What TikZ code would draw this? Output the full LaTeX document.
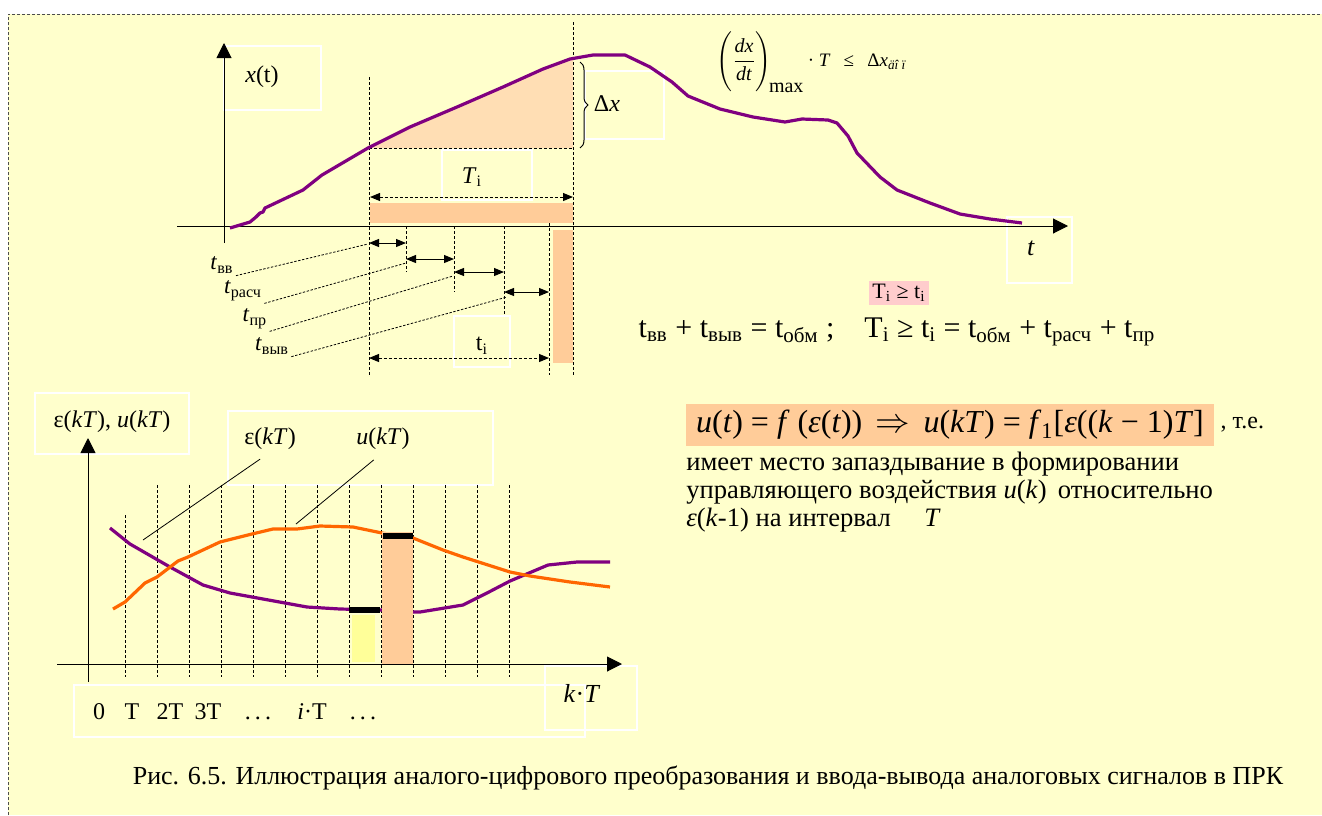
\documentclass[tikz,border=0pt]{standalone}
\usepackage{fontspec}
\setmainfont{Liberation Serif}
\usetikzlibrary{arrows.meta,decorations.pathreplacing}
\definecolor{bgyel}{RGB}{255,255,204}
\definecolor{sigpurple}{RGB}{128,0,128}
\definecolor{sigorange}{RGB}{255,102,0}
\definecolor{peach}{RGB}{255,204,153}
\definecolor{lightpeach}{RGB}{255,222,180}
\definecolor{pinkbg}{RGB}{255,204,204}
\definecolor{lemon}{RGB}{255,255,153}
\newcommand{\dotsep}{.\kern0.17em.\kern0.17em.}
\tikzset{
	wbox/.style={draw=white,line width=0.6pt},
	sig/.style={line width=1.6pt,line join=round},
	guide/.style={dash pattern=on 1.5pt off 1pt,line width=0.4pt},
	leader/.style={dash pattern=on 1.2pt off 0.8pt,line width=0.4pt},
	span/.style={{Triangle[length=5pt,width=4pt]}-{Triangle[length=5pt,width=4pt]},line width=0.5pt},
	lbl/.style={inner sep=1pt,font=\fontsize{12}{14}\selectfont},
	sublbl/.style={inner sep=1pt,font=\fontsize{11.5}{14}\selectfont}
}
\begin{document}
\begin{tikzpicture}[x=0.5pt,y=-0.5pt,>={Triangle[length=7.5pt,width=7.5pt]}]
	\useasboundingbox (0,0) rectangle (1322,815);
	\fill[bgyel] (8,14) rectangle (1322,815);
	\draw[gray!60!black,dash pattern=on 1.5pt off 1pt,line width=0.5pt] (8,815) -- (8,14) -- (1322,14);
	% upper chart
	\draw[wbox] (224,46) rectangle (321,110);
	\draw[wbox] (585,71) rectangle (664,139);
	\draw[wbox] (442,150) rectangle (532,200);
	\draw[wbox] (454,316) rectangle (510,367);
	\draw[wbox] (1007,217) rectangle (1072,283);
	\fill[lightpeach] plot coordinates {(369,148) (410,127) (457,107) (503,87) (543,69) (570,59) (573,58)} -- (573,148) -- cycle;
	\fill[peach] (370,203) rectangle (573,223);
	\fill[peach] (553,230) rectangle (573,363);
	\draw[guide] (573,22) -- (573,375);
	\draw[guide] (369,77) -- (369,375);
	\draw[guide] (406,226) -- (406,272);
	\draw[guide] (454,226) -- (454,292);
	\draw[guide] (504,226) -- (504,314);
	\draw[guide] (549,223) -- (549,375);
	\draw[guide] (369,148) -- (573,148);
	\draw[->,line width=0.5pt] (177,226) -- (1068,226);
	\draw[->,line width=0.5pt] (224,243) -- (224,43);
	\draw[sig,sigpurple] plot coordinates {(230,228) (250,222) (256,217) (260,213) (263,212) (265,208) (303,190) (322,175) (368,148) (410,127) (457,107) (503,87) (543,69) (570,59) (593,55) (625,55) (650,67) (672,82) (688,96) (720,109) (753,117) (785,122) (802,119) (828,120) (837,123) (848,136) (857,153) (880,177) (897,190) (930,203) (960,214) (990,219) (1022,223)};
	\draw[decorate,decoration={brace,amplitude=4pt},line width=0.5pt] (580,62) -- (580,148);
	\draw (262,77) node[lbl] (xlab) {\textit{x}(t)};
	\draw (607,104) node[lbl] (dxlab) {Δ\textit{x}};
	\draw (1031,248) node[lbl,font=\fontsize{13}{15}\selectfont] (tlab) {\textit{t}};
	\draw[span,dash pattern=on 1.5pt off 1pt] (370,197) -- (573,197);
	\draw (472,177) node[lbl] (Tilab) {\textit{T}\textsubscript{i}};
	\draw[span] (369,243) -- (406,243);
	\draw[span] (406,259) -- (454,259);
	\draw[span] (454,272) -- (504,272);
	\draw[span] (504,292) -- (549,292);
	\node[sublbl] (tvv) at (222,265) {\textit{t}\textsubscript{вв}};
	\node[sublbl] (trasch) at (243,291) {\textit{t}\textsubscript{расч}};
	\node[sublbl] (tpr) at (255,319) {\textit{t}\textsubscript{пр}};
	\node[sublbl] (tvyv) at (272,346) {\textit{t}\textsubscript{выв}};
	\coordinate (a1) at (368,244);
	\coordinate (a2) at (406,263);
	\coordinate (a3) at (453,276);
	\coordinate (a4) at (507,297);
	\draw[leader] (tvv.south east) -- (a1);
	\draw[leader] (trasch.south east) -- (a2);
	\draw[leader] (tpr.south east) -- (a3);
	\draw[leader] (tvyv.south east) -- (a4);
	\draw[span,dash pattern=on 1.5pt off 1pt] (369,358) -- (549,358);
	\draw (482,346) node[lbl] (tilab) {t\textsubscript{i}};
	\node[inner sep=0pt,anchor=west] (rate) at (716,62) {\fontsize{10}{12}\selectfont$\displaystyle\Biggl(\frac{\mbox{\textit{dx}}}{\mbox{\textit{dt}}}\Biggr)_{\!\mbox{max}}$\,\fontsize{9.5}{11}\selectfont· \textit{T}\;\, ≤\;\, Δ\textit{x}\textsubscript{\textit{äî ï}}};
	\node[fill=pinkbg,inner sep=1.5pt,font=\fontsize{11}{13}\selectfont] (cond) at (899,293) {T\textsubscript{i} ≥ t\textsubscript{i}};
	\node[lbl,font=\fontsize{15}{17}\selectfont] (tsum) at (897,332) {t\textsubscript{вв} + t\textsubscript{выв} = t\textsubscript{обм} ;\quad T\textsubscript{i} ≥ t\textsubscript{i} = t\textsubscript{обм} + t\textsubscript{расч} + t\textsubscript{пр}};
	% lower chart
	\draw[wbox] (35,393) rectangle (189,454);
	\draw[wbox] (228,411) rectangle (493,485);
	\draw[wbox] (74,685) rectangle (585,737);
	\draw[wbox] (545,666) rectangle (637,730);
	\draw[guide] (125,515) -- (125,677);
	\foreach \k in {1,...,12}
		\draw[guide] (125+32*\k,485) -- (125+32*\k,677);
	\draw[->,line width=0.5pt] (57,664) -- (622,664);
	\draw[->,line width=0.5pt] (88,682) -- (88,438);
	\fill[lemon] (352,615) rectangle (375,662);
	\draw[sig,sigpurple] plot coordinates {(110,528) (130,544) (170,567) (203,585) (230,593) (263,599) (307,607) (340,609) (382,610) (413,612) (420,612) (463,605) (487,593) (510,581) (548,565) (577,562) (610,562)};
	\draw[sig,sigorange] plot coordinates {(113,609) (125,602) (145,583) (157,577) (178,561) (188,557) (220,542) (252,534) (273,529) (297,529) (320,526) (353,527) (382,533) (413,538) (443,550) (463,557) (510,572) (530,576) (570,582) (610,587)};
	\fill[peach] (382,532) rectangle (413,664);
	\draw[line width=2.6pt] (349,610) -- (380,610);
	\draw[line width=2.6pt] (383,536) -- (413,536);
	\node[lbl] (ylab) at (112,422) {ε(\textit{kT}), \textit{u}(\textit{kT})};
	\node[lbl] (epslab) at (270,439) {ε(\textit{kT})};
	\node[lbl] (ulab) at (383,439) {\textit{u}(\textit{kT})};
	\coordinate (epsfoot) at (143,540);
	\coordinate (ufoot) at (296,524);
	\draw[line width=0.4pt,shorten <=6pt] (epslab.south) -- (epsfoot);
	\draw[line width=0.4pt,shorten <=6pt] (ulab.south) -- (ufoot);
	\foreach \xx/\txt [count=\i] in {99/0,132/T,170/2T,208/3T,258/\dotsep,312/\textit{i}·T,363/\dotsep}
		\node[lbl,anchor=base] (tick\i) at (\xx,719) {\txt};
	\node[lbl,font=\fontsize{13}{15}\selectfont] (ktlab) at (582,693) {\textit{k}·\textit{T}};
	% right text
	\node[fill=peach,inner xsep=5pt,inner ysep=3pt,font=\fontsize{16}{18}\selectfont] (law) at (950,425) {\textit{u}(\textit{t}) = \textit{f} (\textit{ε}(\textit{t}))\, $\Rightarrow$\, \textit{u}(\textit{kT}) = \textit{f}\textsubscript{1}[\textit{ε}((\textit{k} − 1)\textit{T}]};
	\node[lbl,anchor=west,xshift=2pt] (te) at (law.east) {, т.е.};
	\node[lbl,anchor=north west,align=left,font=\fontsize{13.3}{13.9}\selectfont] (note) at (684,450) {имеет место запаздывание в формировании\\управляющего воздействия \textit{u}(\textit{k})\, относительно\\\textit{ε}(\textit{k}-1) на интервал \quad \textit{T}};
	% \draw[wbox] (680,395) rectangle (1300,560);
	\node[lbl,font=\fontsize{13}{15}\selectfont] (cap) at (708,778) {Рис. 6.5. Иллюстрация аналого-цифрового преобразования и ввода-вывода аналоговых сигналов в ПРК};
\end{tikzpicture}
\end{document}
